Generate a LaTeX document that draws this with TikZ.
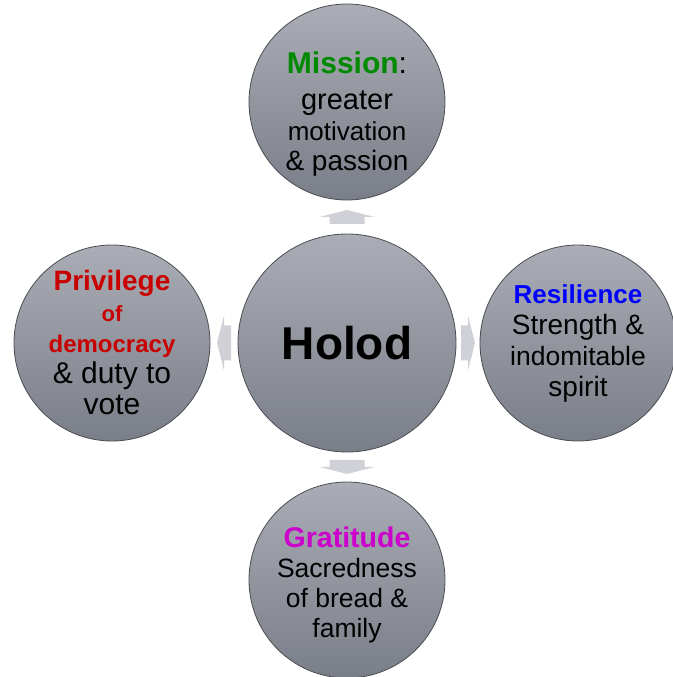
\documentclass[tikz,border=0pt]{standalone}
\usepackage{fontspec}
\setmainfont{Liberation Sans}
\usetikzlibrary{calc}

\definecolor{bubbletop}{RGB}{170,173,181}
\definecolor{bubblebottom}{RGB}{122,126,136}
\definecolor{bubbleline}{RGB}{75,77,82}
\definecolor{arrowgray}{RGB}{207,209,214}
\definecolor{missiongreen}{RGB}{0,138,0}
\definecolor{resilblue}{RGB}{0,0,255}
\definecolor{privred}{RGB}{200,0,0}
\definecolor{gratmagenta}{RGB}{204,0,204}

% font size with a fixed line pitch
\newcommand{\fsz}[1]{\fontsize{#1}{31}\selectfont}

\tikzset{
    bubble/.style={circle, draw=bubbleline, line width=0.8pt,
        top color=bubbletop, bottom color=bubblebottom,
        minimum size=196pt, inner sep=0pt, align=center,
        font=\fontsize{28}{31}\selectfont},
    hub/.style={bubble, minimum size=218pt},
    pics/blockarrow/.style={code={
        \fill[arrowgray] (-7,-17.5) -- (0,-17.5) -- (0,-27.5) -- (7,0)
            -- (0,27.5) -- (0,17.5) -- (-7,17.5) -- cycle;
    }}
}

\begin{document}
\begin{tikzpicture}[x=1pt,y=1pt]
    \useasboundingbox (0,0) rectangle (672,677);

    % the centre and the four values round it
    \node[hub] (holod) at (347,334) {\fsz{46}\bfseries Holod};
    \node[bubble] (mission) at (347,575)
        {\rule{0pt}{45pt}{\fsz{30}\bfseries\color{missiongreen}Mission}\fsz{30}:\\[5pt]
         \fsz{29}greater\\ \fsz{26}motivation\\[-1pt] \fsz{28}\& passion};
    \node[bubble] (resilience) at (578,334)
        {{\fsz{26}\bfseries\color{resilblue}Resilience}\\
         \fsz{28}Strength \&\\ \fsz{26.5}indomitable\\ \fsz{28}spirit};
    \node[bubble] (privilege) at (112,334)
        {{\fsz{28}\bfseries\color{privred}Privilege}\\
         {\fsz{22}\bfseries\color{privred}of}\\
         {\fsz{24}\bfseries\color{privred}democracy}\\
         \fsz{30}\& duty to\\ \fsz{30}vote};
    \node[bubble] (gratitude) at (347,97)
        {\rule{0pt}{30pt}{\fsz{28.5}\bfseries\color{gratmagenta}Gratitude}\\[-1pt]
         \fsz{26.5}Sacredness\\[-1pt] \fsz{26.5}of bread \&\\[-1pt] \fsz{26.5}family};

    % arrows out of the centre
    \pic[rotate=90]  at ($(holod.north)!0.5!(mission.south)$) {blockarrow};
    \pic[rotate=-90] at ($(holod.south)!0.5!(gratitude.north)$) {blockarrow};
    \pic[rotate=180] at ($(holod.west)!0.5!(privilege.east)$) {blockarrow};
    \pic             at ($(holod.east)!0.5!(resilience.west)$) {blockarrow};
\end{tikzpicture}
\end{document}
